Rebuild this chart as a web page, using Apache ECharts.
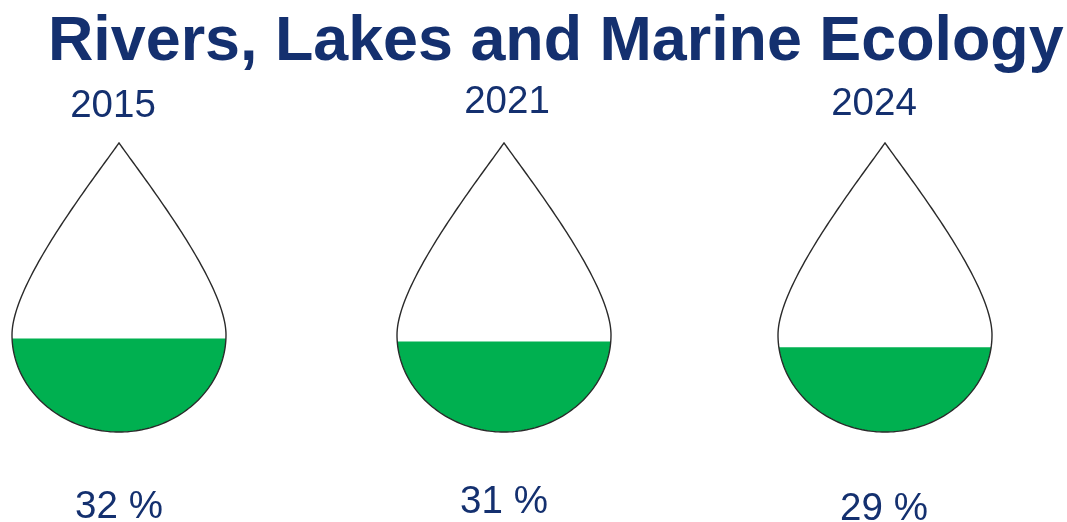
<!DOCTYPE html>
<html><head><meta charset="utf-8">
<style>html,body{margin:0;padding:0;background:#fff}#c{width:1067px;height:522px}</style>
<script src="https://cdn.jsdelivr.net/npm/echarts@6/dist/echarts.min.js"></script>
</head><body><div id="c"></div>
<script>
const titleText = 'Rivers, Lakes and Marine Ecology';
const years = ['2015', '2021', '2024'];
const values = [32, 31, 29];

// layout (pixels)
const dropOffsetX = [0, 2, 0];
const yearPos = [[113, 106], [507, 102], [874, 104]];
const valuePos = [[119, 507], [504, 502], [884, 509]];
const HALF = 107, TIP_SHIFT = 1;
const NAVY = '#14306f';

function bez(a, b, c, d, t) { const m = 1 - t; return m*m*m*a + 3*m*m*t*b + 3*m*t*t*c + t*t*t*d; }
// right half of the drop in unit coordinates: u = across, v = down from tip
const segs = [
  [[0, 0], [0.29, 0.15], [1, 0.49], [1, 0.664]],
  [[1, 0.664], [1, 0.849], [0.55, 1], [0, 1]]
];
const outline = [];
segs.forEach(s => { for (let i = 0; i <= 60; i++) { const t = i / 60;
  outline.push([bez(s[0][0], s[1][0], s[2][0], s[3][0], t), bez(s[0][1], s[1][1], s[2][1], s[3][1], t)]); } });

function renderDrop(params, api) {
  const i = api.value(0), val = api.value(1);
  const cx = api.coord([i, 0])[0] + dropOffsetX[i];
  const y0 = api.coord([i, 0])[1], y100 = api.coord([i, 100])[1];
  const h = y0 - y100;
  const levelY = api.coord([i, val])[1];
  const toPx = p => [cx + p[0] * HALF, y100 + TIP_SHIFT + p[1] * h];
  const px = outline.map(toPx);
  const left = px.slice().reverse().map(p => [2 * cx - p[0], p[1]]);
  const whole = px.concat(left);
  // part of the outline below the level
  const below = [];
  for (let k = 0; k < px.length; k++) {
    if (px[k][1] >= levelY) {
      if (!below.length && k > 0) {
        const a = px[k - 1], b = px[k], f = (levelY - a[1]) / ((b[1] - a[1]) || 1);
        below.push([a[0] + (b[0] - a[0]) * f, levelY]);
      }
      below.push(px[k]);
    }
  }
  const fill = below.concat(below.slice().reverse().map(p => [2 * cx - p[0], p[1]]));
  return { type: 'group', children: [
    { type: 'polygon', shape: { points: fill }, style: { fill: '#00b050', stroke: null } },
    { type: 'polygon', shape: { points: whole }, style: { fill: null, stroke: '#2a2a2a', lineWidth: 1.4 } },
    { type: 'text', style: { text: years[i], x: yearPos[i][0], y: yearPos[i][1], align: 'center', verticalAlign: 'middle',
        fill: NAVY, font: '38.5px "Liberation Sans", Arial, sans-serif' } },
    { type: 'text', style: { text: val + ' %', x: valuePos[i][0], y: valuePos[i][1], align: 'center', verticalAlign: 'middle',
        fill: NAVY, font: '38.5px "Liberation Sans", Arial, sans-serif' } }
  ] };
}

const chart = echarts.init(document.getElementById('c'), null, { renderer: 'canvas' });
chart.setOption({
  animation: false,
  backgroundColor: '#fff',
  title: { text: titleText, left: 48, top: 11, padding: 0,
    textStyle: { color: NAVY, fontSize: 62.8, fontWeight: 'bold', fontFamily: '"Liberation Sans", Arial, sans-serif' } },
  grid: { left: 0, right: 0, top: 142, height: 289 },
  xAxis: { type: 'value', min: -0.3107, max: 2.4752, show: false },
  yAxis: { type: 'value', min: 0, max: 100, show: false },
  series: [{ type: 'custom', clip: false, renderItem: renderDrop, encode: { x: 0, y: 1 },
    data: values.map((v, i) => [i, v]) }]
});
</script></body></html>
